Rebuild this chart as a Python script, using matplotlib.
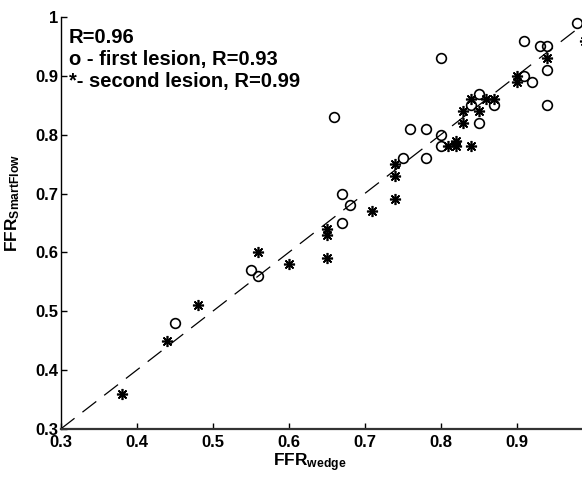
import matplotlib
matplotlib.use('Agg')
import matplotlib.pyplot as plt

plt.rcParams['font.family'] = ['Liberation Sans', 'DejaVu Sans']
plt.rcParams['font.weight'] = 'bold'
plt.rcParams['mathtext.fontset'] = 'custom'
plt.rcParams['mathtext.rm'] = 'Liberation Sans:bold'
plt.rcParams['mathtext.bf'] = 'Liberation Sans:bold'
plt.rcParams['mathtext.it'] = 'Liberation Sans:bold'

# first lesion (open circles)
first_x = [0.45, 0.55, 0.56, 0.66, 0.67, 0.68, 0.67, 0.75, 0.76, 0.78, 0.78, 0.80, 0.80,
           0.80, 0.84, 0.85, 0.85, 0.87, 0.91, 0.93, 0.94, 0.91, 0.92, 0.94, 0.94, 0.98]
first_y = [0.48, 0.57, 0.56, 0.83, 0.70, 0.68, 0.65, 0.76, 0.81, 0.81, 0.76, 0.80, 0.78,
           0.93, 0.85, 0.87, 0.82, 0.85, 0.96, 0.95, 0.95, 0.90, 0.89, 0.91, 0.85, 0.99]

# second lesion (asterisks)
second_x = [0.38, 0.44, 0.48, 0.56, 0.60, 0.65, 0.65, 0.65, 0.71, 0.74, 0.74, 0.74, 0.81,
            0.82, 0.82, 0.84, 0.83, 0.83, 0.84, 0.85, 0.86, 0.87, 0.90, 0.90, 0.94, 0.99]
second_y = [0.36, 0.45, 0.51, 0.60, 0.58, 0.64, 0.63, 0.59, 0.67, 0.69, 0.73, 0.75, 0.78,
            0.79, 0.78, 0.78, 0.82, 0.84, 0.86, 0.84, 0.86, 0.86, 0.90, 0.89, 0.93, 0.96]

# identity line
line_x = [0.3, 1.0]
line_y = [0.3, 1.0]

x_ticks = [0.3, 0.4, 0.5, 0.6, 0.7, 0.8, 0.9, 1.0]
x_tick_labels = ['0.3', '0.4', '0.5', '0.6', '0.7', '0.8', '0.9', '']
y_ticks = [0.3, 0.4, 0.5, 0.6, 0.7, 0.8, 0.9, 1.0]
y_tick_labels = ['0.3', '0.4', '0.5', '0.6', '0.7', '0.8', '0.9', '1']

annotation_lines = ['R=0.96', 'o - first lesion, R=0.93', '*- second lesion, R=0.99']
x_label = r'$\mathbf{FFR}_{\mathbf{wedge}}$'
y_label = r'$\mathbf{FFR}_{\mathbf{SmartFlow}}$'

W, H = 582, 479
fig = plt.figure(figsize=(W / 100, H / 100), dpi=100)
x0, x1 = 60.7, 60.7 + 760 * 0.7
y_top, y_bot = 17, 429
ax = fig.add_axes([x0 / W, 1 - y_bot / H, (x1 - x0) / W, (y_bot - y_top) / H])

ax.plot(line_x, line_y, color='black', lw=0.9, dashes=(14, 8), zorder=1)
ax.plot(first_x, first_y, linestyle='none', marker='o', markersize=7,
        mfc='none', mec='black', mew=1.2, zorder=3)
ax.plot(second_x, second_y, linestyle='none', marker=(8, 2, 0), markersize=8,
        mec='black', mew=1.2, zorder=3)

ax.set_xlim(0.3, 1.0)
ax.set_ylim(0.3, 1.0)
ax.set_xticks(x_ticks)
ax.set_xticklabels(x_tick_labels)
ax.set_yticks(y_ticks)
ax.set_yticklabels(y_tick_labels)
ax.tick_params(direction='in', length=4, width=1, labelsize=12)
ax.tick_params(axis='x', pad=4)
ax.tick_params(axis='y', pad=2)
for lab in ax.get_xticklabels() + ax.get_yticklabels():
    lab.set_fontweight('bold')
ax.spines['top'].set_visible(False)
ax.spines['right'].set_visible(False)
ax.spines['bottom'].set_linewidth(1.6)
ax.spines['bottom'].set_color('#333333')
ax.spines['left'].set_linewidth(1.0)

baselines = [43, 65.5, 87]
for txt, b in zip(annotation_lines, baselines):
    fig.text(69 / W, 1 - b / H, txt, fontsize=14.5, fontweight='bold',
             ha='left', va='baseline')

fig.text(310 / W, 1 - 463 / H, x_label, fontsize=12.5, ha='center', va='center')
fig.text(13 / W, 1 - 203 / H, y_label, fontsize=12.5, rotation=90, ha='center', va='center')

fig.savefig('out.png', dpi=100)
